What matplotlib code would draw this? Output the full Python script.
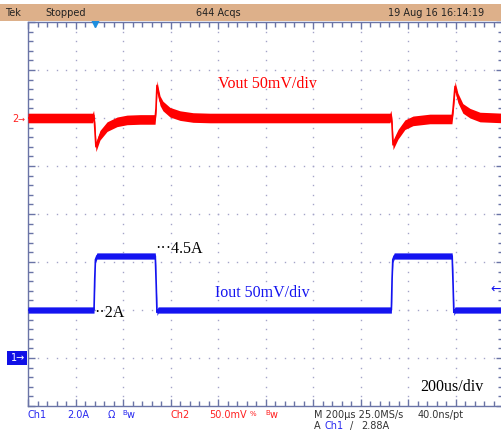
import numpy as np
import matplotlib.pyplot as plt
from matplotlib.patches import Rectangle

# scope settings
time_per_div = 200.0      # us/div
vout_per_div = 50.0       # mV/div
iout_per_div = 2.0        # A/div
ch2_offset = 2.0          # div (Vout marker)
ch1_offset = -3.0         # div (Iout ground marker)

# Vout trace (us, mV)
vout_t = [0, 272, 276, 280, 286, 303, 333, 375, 417, 472, 535, 539, 543, 549, 556, 568,
          598, 640, 695, 766, 1524, 1528, 1532, 1537, 1558, 1587, 1621, 1692, 1785,
          1790, 1798, 1810, 1831, 1861, 1903, 2000]
vout_mv = [0, 0, 3, -5, -30, -18, -9, -4, -2, -1.5, -1.5, 10, 34, 26, 18, 12.5,
           6, 2.5, 0.5, 0, 0, 3, -4, -28, -17, -7, -3, -1, -1,
           10, 33, 21, 10, 5, 1, 0]

# Iout trace (us, A)
iout_t = [0, 278, 281, 284, 290, 536, 540, 543, 548, 1530, 1533, 1536, 1542,
          1786, 1790, 1793, 1798, 2000]
iout_a = [2.0, 2.0, 3.3, 4.1, 4.25, 4.25, 3.0, 1.9, 2.0, 2.0, 3.3, 4.1, 4.25,
          4.25, 3.0, 1.9, 2.0, 2.0]

W, H = 502, 433
def fx(x):
    return x / W
def fy(y):
    return 1 - y / H

fig = plt.figure(figsize=(W / 100, H / 100), dpi=100)
fig.patch.set_facecolor('white')

# header bar
fig.patches.append(Rectangle((0, fy(21)), 1, 17 / H, transform=fig.transFigure,
                             facecolor='#DDB08A', edgecolor='none', zorder=0))
hdr = dict(fontsize=7, color='#222222', va='center', family='DejaVu Sans')
fig.text(fx(5), fy(13), 'Tek', **hdr)
fig.text(fx(45), fy(13), 'Stopped', **hdr)
fig.text(fx(196), fy(13), '644 Acqs', **hdr)
fig.text(fx(388), fy(13), '19 Aug 16 16:14:19', **hdr)

ax = fig.add_axes([fx(28), fy(406), 475 / W, 384 / H])
ax.set_xlim(0, 10 * time_per_div)
ax.set_ylim(-4, 4)
ax.set_facecolor('white')

grid_c = '#6A74A6'
for s in ax.spines.values():
    s.set_color(grid_c)
    s.set_linewidth(1)
ax.set_xticks(np.arange(0, 2001, 200))
ax.set_xticks(np.arange(0, 2001, 40), minor=True)
ax.set_yticks(np.arange(-4, 5, 1))
ax.set_yticks(np.arange(-4, 4.01, 0.2), minor=True)
ax.tick_params(which='both', direction='in', top=True, right=True, color=grid_c,
               labelbottom=False, labelleft=False)
ax.tick_params(which='major', length=5, width=1)
ax.tick_params(which='minor', length=3.5, width=1)

# dotted graticule
dot_c = '#A4A4C8'
minor_y = np.arange(-4, 4.01, 0.2)
minor_x = np.arange(0, 2001, 40)
for xv in range(200, 2000, 200):
    ax.plot(np.full_like(minor_y, xv), minor_y, ls='none', marker='s', ms=1.0,
            mew=0, color=dot_c, zorder=1)
for yv in range(-3, 4):
    ax.plot(minor_x, np.full_like(minor_x, yv, dtype=float), ls='none', marker='s',
            ms=1.0, mew=0, color=dot_c, zorder=1)

# traces
vt = np.array(vout_t, dtype=float)
vy = ch2_offset + np.array(vout_mv) / vout_per_div
ax.fill_between(vt, vy - 0.1, vy + 0.1, color='#FF0000', lw=0, zorder=3)
ax.plot(vt, vy, color='#FF0000', lw=1.2, zorder=3)

it = np.array(iout_t, dtype=float)
iy = ch1_offset + np.array(iout_a) / iout_per_div
ax.fill_between(it, iy - 0.065, iy + 0.065, color='#1414F0', lw=0, zorder=3)
ax.plot(it, iy, color='#1414F0', lw=1.2, zorder=3)

# trigger position marker on top
ax.plot([282], [4.0], marker='v', ms=7, color='#1E8FE0', clip_on=False, zorder=5)

# annotations on the screen
ser = dict(family='Liberation Serif', fontsize=11.5, va='center')
fig.text(fx(218), fy(84), 'Vout 50mV/div', color='#FF0000', **ser)
fig.text(fx(215), fy(293), 'Iout 50mV/div', color='#1414F0', **ser)
fig.text(fx(155), fy(249), '\u00b7\u00b7\u00b74.5A', color='black', **ser)
fig.text(fx(94), fy(313), '\u00b7\u00b72A', color='black', **ser)
fig.text(fx(420), fy(387), '200us/div', color='black', **ser)

# channel markers on the left
fig.text(fx(12), fy(119), '2', color='#FF2020', fontsize=7, va='center',
         family='DejaVu Sans')
fig.text(fx(18), fy(119), '\u2192', color='#FF2020', fontsize=6, va='center',
         family='DejaVu Sans')
fig.patches.append(Rectangle((fx(7), fy(365)), 20 / W, 14 / H, transform=fig.transFigure,
                             facecolor='#1010E6', edgecolor='none', zorder=4))
fig.text(fx(11), fy(358), '1\u2192', color='white', fontsize=7, va='center',
         family='DejaVu Sans', zorder=5)
# trigger level arrow on the right
fig.text(fx(490), fy(289), '\u2190', color='#1414F0', fontsize=9, va='center',
         family='DejaVu Sans')

# status line
st = dict(fontsize=7, va='center', family='DejaVu Sans')
blue = '#2828F0'
red = '#FF2020'
gray = '#333333'
fig.text(fx(28), fy(415), 'Ch1', color=blue, **st)
fig.text(fx(67), fy(415), '2.0A', color=blue, **st)
fig.text(fx(108), fy(415), '\u03a9', color=blue, **st)
fig.text(fx(122), fy(413), 'B', color=blue, fontsize=5, va='center', family='DejaVu Sans')
fig.text(fx(127), fy(415), 'w', color=blue, **st)
fig.text(fx(171), fy(415), 'Ch2', color=red, **st)
fig.text(fx(209), fy(415), '50.0mV', color=red, **st)
fig.text(fx(250), fy(414), '%', color=red, fontsize=5, va='center', family='DejaVu Sans')
fig.text(fx(265), fy(413), 'B', color=red, fontsize=5, va='center', family='DejaVu Sans')
fig.text(fx(270), fy(415), 'w', color=red, **st)
fig.text(fx(314), fy(415), 'M 200\u00b5s 25.0MS/s', color=gray, **st)
fig.text(fx(418), fy(415), '40.0ns/pt', color=gray, **st)
fig.text(fx(314), fy(426), 'A', color=gray, **st)
fig.text(fx(325), fy(426), 'Ch1', color=blue, **st)
fig.text(fx(350), fy(426), '/', color=gray, **st)
fig.text(fx(361), fy(426), '2.88A', color=gray, **st)

fig.savefig('out.png', dpi=100)
